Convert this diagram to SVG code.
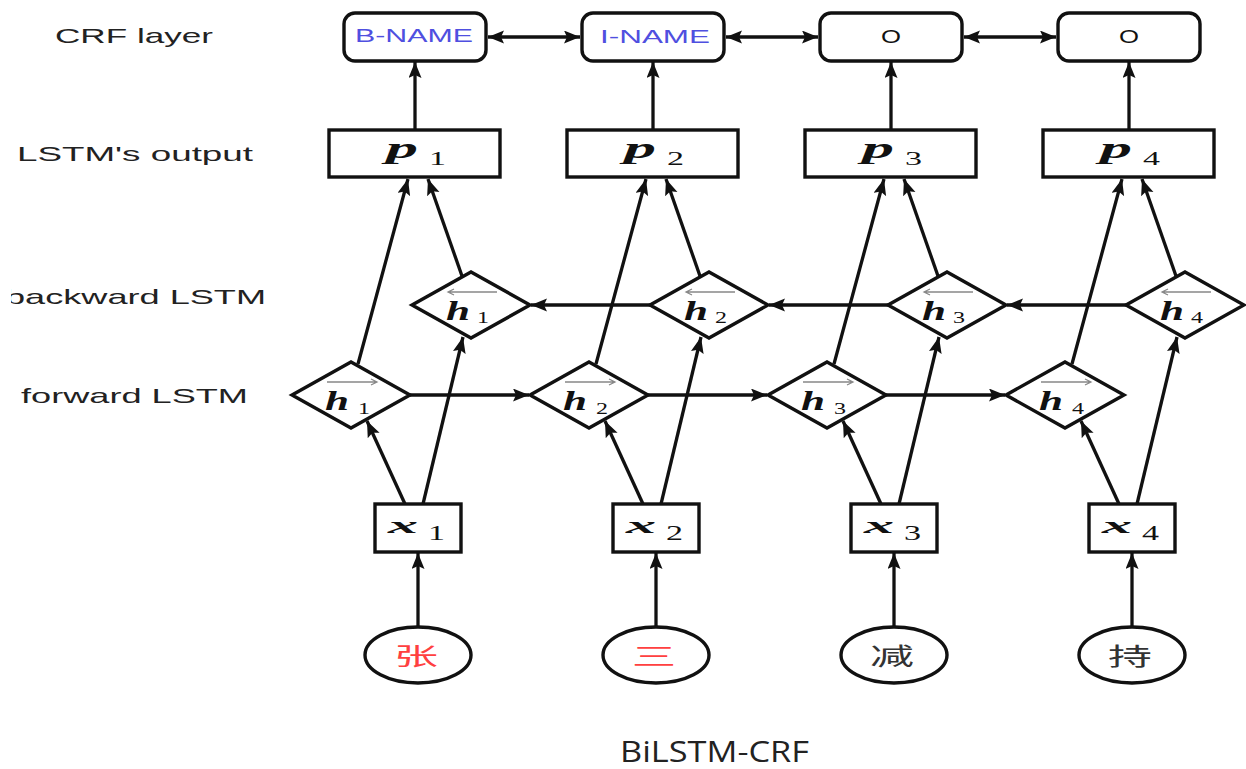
<svg xmlns="http://www.w3.org/2000/svg" width="1246" height="769" viewBox="0 0 1246 769">
<style>
.ar{stroke:#111;stroke-width:3.3;fill:none;marker-end:url(#ah)}
.dar{stroke:#111;stroke-width:3.3;fill:none;marker-end:url(#ah);marker-start:url(#ah)}
.box{fill:#fff;stroke:#111;stroke-width:3.4}
.lab{font-family:"Liberation Sans",Arial,sans-serif;font-size:21px;fill:#222}
.tag{font-family:"Liberation Sans",Arial,sans-serif;font-size:19px;fill:#4f4fe0}
.o{font-family:"Liberation Sans",Arial,sans-serif;font-size:18px;fill:#111}
.m{font-family:"Liberation Serif","Times New Roman",serif;font-weight:bold;font-style:italic;fill:#111}
.s{font-family:"Liberation Serif","Times New Roman",serif;fill:#111}
.cjk{font-family:"Noto Sans CJK SC",sans-serif;font-size:24px}
.ga{stroke:#888;stroke-width:1.3;fill:none}
</style>
<defs>
<marker id="ah" markerUnits="userSpaceOnUse" markerWidth="18" markerHeight="14" refX="16" refY="6.5" orient="auto-start-reverse">
<path d="M0,0 L16,6.5 L0,13 L3,6.5 Z" fill="#111"/>
</marker>
<clipPath id="clipL"><rect x="11" y="270" width="300" height="50"/></clipPath>
</defs>
<rect width="1246" height="769" fill="#fff"/>

<g id="labels">
<text class="lab" x="55" y="43" textLength="158" lengthAdjust="spacingAndGlyphs">CRF layer</text>
<text class="lab" x="17" y="161" textLength="236" lengthAdjust="spacingAndGlyphs">LSTM's output</text>
<text class="lab" x="5" y="304" textLength="261" lengthAdjust="spacingAndGlyphs" clip-path="url(#clipL)">backward LSTM</text>
<text class="lab" x="21" y="403" textLength="227" lengthAdjust="spacingAndGlyphs">forward LSTM</text>
</g>

<g id="connectors">
<path class="dar" d="M488,37 H580"/>
<path class="dar" d="M726,37 H818"/>
<path class="dar" d="M964,37 H1056"/>
<path class="ar" d="M415,130 V62"/>
<path class="ar" d="M653,130 V62"/>
<path class="ar" d="M891,130 V62"/>
<path class="ar" d="M1129,130 V62"/>
<path class="ar" d="M358,364 L408,179"/>
<path class="ar" d="M596,364 L646,179"/>
<path class="ar" d="M834,364 L884,179"/>
<path class="ar" d="M1072,364 L1122,179"/>
<path class="ar" d="M462,276 L428,179"/>
<path class="ar" d="M700,276 L666,179"/>
<path class="ar" d="M938,276 L904,179"/>
<path class="ar" d="M1176,276 L1142,179"/>
<path class="ar" d="M405,504 L367,421"/>
<path class="ar" d="M643,504 L605,421"/>
<path class="ar" d="M881,504 L843,421"/>
<path class="ar" d="M1119,504 L1081,421"/>
<path class="ar" d="M423,504 L463,337"/>
<path class="ar" d="M661,504 L701,337"/>
<path class="ar" d="M899,504 L939,337"/>
<path class="ar" d="M1137,504 L1177,337"/>
<path class="ar" d="M418,627 V553"/>
<path class="ar" d="M656,627 V553"/>
<path class="ar" d="M894,627 V553"/>
<path class="ar" d="M1132,627 V553"/>
<path class="ar" d="M410,395 H529"/>
<path class="ar" d="M648,395 H767"/>
<path class="ar" d="M886,395 H1005"/>
<path class="ar" d="M650,305 H531"/>
<path class="ar" d="M888,305 H769"/>
<path class="ar" d="M1126,305 H1007"/>
</g>

<g id="crf1"><rect class="box" x="344" y="13" width="142" height="48" rx="11"/><text class="tag" x="355" y="42" textLength="118" lengthAdjust="spacingAndGlyphs">B-NAME</text></g>
<g id="crf2"><rect class="box" x="582" y="13" width="142" height="48" rx="11"/><text class="tag" x="600" y="43" textLength="110" lengthAdjust="spacingAndGlyphs">I-NAME</text></g>
<g id="crf3"><rect class="box" x="820" y="13" width="142" height="48" rx="11"/><text class="o" x="891" y="43" text-anchor="middle" textLength="20" lengthAdjust="spacingAndGlyphs">O</text></g>
<g id="crf4"><rect class="box" x="1058" y="13" width="142" height="48" rx="11"/><text class="o" x="1129" y="43" text-anchor="middle" textLength="20" lengthAdjust="spacingAndGlyphs">O</text></g>

<g id="p1"><rect class="box" x="329" y="130" width="171" height="47"/><text class="m" x="386" y="158" font-size="30" textLength="32" lengthAdjust="spacingAndGlyphs">p</text><text class="s" x="429" y="165" font-size="19" textLength="17" lengthAdjust="spacingAndGlyphs">1</text></g>
<g id="p2"><rect class="box" x="567" y="130" width="171" height="47"/><text class="m" x="624" y="158" font-size="30" textLength="32" lengthAdjust="spacingAndGlyphs">p</text><text class="s" x="667" y="165" font-size="19" textLength="17" lengthAdjust="spacingAndGlyphs">2</text></g>
<g id="p3"><rect class="box" x="805" y="130" width="171" height="47"/><text class="m" x="862" y="158" font-size="30" textLength="32" lengthAdjust="spacingAndGlyphs">p</text><text class="s" x="905" y="165" font-size="19" textLength="17" lengthAdjust="spacingAndGlyphs">3</text></g>
<g id="p4"><rect class="box" x="1043" y="130" width="171" height="47"/><text class="m" x="1100" y="158" font-size="30" textLength="32" lengthAdjust="spacingAndGlyphs">p</text><text class="s" x="1143" y="165" font-size="19" textLength="17" lengthAdjust="spacingAndGlyphs">4</text></g>

<g id="hb1"><path class="box" d="M412,305 L471,272 L530,305 L471,338 Z"/><path class="ga" d="M497,292 H448 M454,289 L448,292 L454,295"/><text class="m" x="446" y="320" font-size="27" textLength="24" lengthAdjust="spacingAndGlyphs">h</text><text class="s" x="477" y="323" font-size="17" textLength="12" lengthAdjust="spacingAndGlyphs">1</text></g>
<g id="hb2"><path class="box" d="M650,305 L709,272 L768,305 L709,338 Z"/><path class="ga" d="M735,292 H686 M692,289 L686,292 L692,295"/><text class="m" x="684" y="320" font-size="27" textLength="24" lengthAdjust="spacingAndGlyphs">h</text><text class="s" x="715" y="323" font-size="17" textLength="12" lengthAdjust="spacingAndGlyphs">2</text></g>
<g id="hb3"><path class="box" d="M888,305 L947,272 L1006,305 L947,338 Z"/><path class="ga" d="M973,292 H924 M930,289 L924,292 L930,295"/><text class="m" x="922" y="320" font-size="27" textLength="24" lengthAdjust="spacingAndGlyphs">h</text><text class="s" x="953" y="323" font-size="17" textLength="12" lengthAdjust="spacingAndGlyphs">3</text></g>
<g id="hb4"><path class="box" d="M1126,305 L1185,272 L1244,305 L1185,338 Z"/><path class="ga" d="M1211,292 H1162 M1168,289 L1162,292 L1168,295"/><text class="m" x="1160" y="320" font-size="27" textLength="24" lengthAdjust="spacingAndGlyphs">h</text><text class="s" x="1191" y="323" font-size="17" textLength="12" lengthAdjust="spacingAndGlyphs">4</text></g>

<g id="hf1"><path class="box" d="M292,395 L351,362 L410,395 L351,428 Z"/><path class="ga" d="M327,382 H377 M371,379 L377,382 L371,385"/><text class="m" x="325" y="410" font-size="27" textLength="24" lengthAdjust="spacingAndGlyphs">h</text><text class="s" x="358" y="414" font-size="17" textLength="12" lengthAdjust="spacingAndGlyphs">1</text></g>
<g id="hf2"><path class="box" d="M530,395 L589,362 L648,395 L589,428 Z"/><path class="ga" d="M565,382 H615 M609,379 L615,382 L609,385"/><text class="m" x="563" y="410" font-size="27" textLength="24" lengthAdjust="spacingAndGlyphs">h</text><text class="s" x="596" y="414" font-size="17" textLength="12" lengthAdjust="spacingAndGlyphs">2</text></g>
<g id="hf3"><path class="box" d="M768,395 L827,362 L886,395 L827,428 Z"/><path class="ga" d="M803,382 H853 M847,379 L853,382 L847,385"/><text class="m" x="801" y="410" font-size="27" textLength="24" lengthAdjust="spacingAndGlyphs">h</text><text class="s" x="834" y="414" font-size="17" textLength="12" lengthAdjust="spacingAndGlyphs">3</text></g>
<g id="hf4"><path class="box" d="M1006,395 L1065,362 L1124,395 L1065,428 Z"/><path class="ga" d="M1041,382 H1091 M1085,379 L1091,382 L1085,385"/><text class="m" x="1039" y="410" font-size="27" textLength="24" lengthAdjust="spacingAndGlyphs">h</text><text class="s" x="1072" y="414" font-size="17" textLength="12" lengthAdjust="spacingAndGlyphs">4</text></g>

<g id="x1"><rect class="box" x="375" y="504" width="86" height="48"/><text class="m" x="388" y="533" font-size="24" textLength="30" lengthAdjust="spacingAndGlyphs">x</text><text class="s" x="428" y="540" font-size="21" textLength="17" lengthAdjust="spacingAndGlyphs">1</text></g>
<g id="x2"><rect class="box" x="613" y="504" width="86" height="48"/><text class="m" x="626" y="533" font-size="24" textLength="30" lengthAdjust="spacingAndGlyphs">x</text><text class="s" x="666" y="540" font-size="21" textLength="17" lengthAdjust="spacingAndGlyphs">2</text></g>
<g id="x3"><rect class="box" x="851" y="504" width="86" height="48"/><text class="m" x="864" y="533" font-size="24" textLength="30" lengthAdjust="spacingAndGlyphs">x</text><text class="s" x="904" y="540" font-size="21" textLength="17" lengthAdjust="spacingAndGlyphs">3</text></g>
<g id="x4"><rect class="box" x="1089" y="504" width="86" height="48"/><text class="m" x="1102" y="533" font-size="24" textLength="30" lengthAdjust="spacingAndGlyphs">x</text><text class="s" x="1142" y="540" font-size="21" textLength="17" lengthAdjust="spacingAndGlyphs">4</text></g>

<g id="w1"><ellipse class="box" cx="418" cy="655" rx="53" ry="28"/><text class="cjk" x="416" y="665" text-anchor="middle" fill="#ff4040" textLength="44" lengthAdjust="spacingAndGlyphs">张</text></g>
<g id="w2"><ellipse class="box" cx="656" cy="655" rx="53" ry="28"/><text class="cjk" x="654" y="665" text-anchor="middle" fill="#ff4040" textLength="44" lengthAdjust="spacingAndGlyphs">三</text></g>
<g id="w3"><ellipse class="box" cx="894" cy="655" rx="53" ry="28"/><text class="cjk" x="892" y="665" text-anchor="middle" fill="#333" textLength="44" lengthAdjust="spacingAndGlyphs">减</text></g>
<g id="w4"><ellipse class="box" cx="1132" cy="655" rx="53" ry="28"/><text class="cjk" x="1130" y="665" text-anchor="middle" fill="#333" textLength="44" lengthAdjust="spacingAndGlyphs">持</text></g>

<g id="caption"><text x="620" y="762" font-family="'Open Sans','Noto Sans',sans-serif" font-size="30" fill="#222" textLength="189" lengthAdjust="spacingAndGlyphs">BiLSTM-CRF</text></g>
</svg>
